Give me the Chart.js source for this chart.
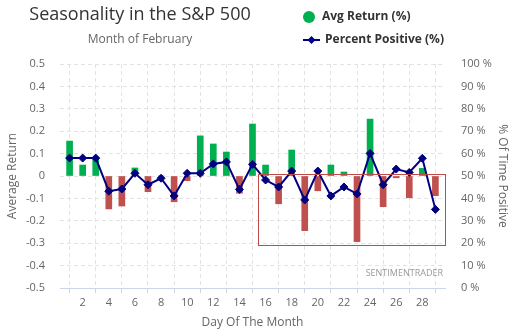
<!DOCTYPE html>
<html><head><meta charset="utf-8">
<script src="https://cdn.jsdelivr.net/npm/chart.js@4"></script>
<style>html,body{margin:0;padding:0;background:#fff;}canvas{display:block;}</style>
</head><body>
<canvas id="c" width="515" height="331"></canvas>
<script>
const days = [1,2,3,4,5,6,7,8,9,10,11,12,13,14,15,16,17,18,19,20,21,22,23,24,25,26,27,28,29];
const avgReturn = [0.156,0.049,0.079,-0.147,-0.134,0.036,-0.070,0.000,-0.115,-0.021,0.179,0.143,0.107,-0.077,0.232,0.049,-0.124,0.116,-0.244,-0.066,0.049,0.018,-0.293,0.254,-0.137,-0.008,-0.097,0.034,-0.088];
const pctPositive = [58.0,58.0,58.0,43.2,44.2,51.2,46.1,49.0,41.1,51.2,51.2,55.4,56.3,44.0,55.2,48.2,45.1,52.2,39.3,52.2,41.1,45.1,42.0,60.1,46.1,53.1,51.6,57.9,35.1];
const xTickDays = [2,4,6,8,10,12,14,16,18,20,22,24,26,28];
const titleText = 'Seasonality in the S&P 500';
const subtitleText = 'Month of February';
const seriesNames = ['Avg Return (%)', 'Percent Positive (%)'];
const axisTitles = {x: 'Day Of The Month', y: 'Average Return', y1: '% Of Time Positive'};
const watermark = 'SENTIMENTRADER';
// highlight box in data units: [xFrom, xTo, yTop, yBottom]
const highlightBox = [15.45, 29.73, 0.008, -0.308];

const GREEN = '#00b050', RED = '#c0504d', NAVY = '#000080';
const FONT = '"Open Sans", "DejaVu Sans", sans-serif';

const decor = {
  id: 'decor',
  afterDatasetsDraw(chart) {
    const {ctx, scales: {x, y}} = chart;
    ctx.save();
    ctx.strokeStyle = '#be4b48';
    ctx.lineWidth = 1;
    const x0 = Math.round(x.getPixelForValue(highlightBox[0])) + 0.5;
    const x1 = Math.round(x.getPixelForValue(highlightBox[1])) + 0.5;
    const y0 = Math.round(y.getPixelForValue(highlightBox[2])) + 0.5;
    const y1 = Math.round(y.getPixelForValue(highlightBox[3])) + 0.5;
    ctx.strokeRect(x0, y0, x1 - x0, y1 - y0);
    ctx.restore();
  },
  afterDraw(chart) {
    const {ctx, chartArea} = chart;
    ctx.save();
    ctx.textBaseline = 'middle';
    ctx.textAlign = 'center';
    ctx.fillStyle = '#333333';
    ctx.font = '18px ' + FONT;
    ctx.fillText(titleText, 140, 15);
    ctx.fillStyle = '#666666';
    ctx.font = '12px ' + FONT;
    ctx.fillText(subtitleText, 140, 40);
    // legend
    ctx.fillStyle = GREEN;
    ctx.beginPath(); ctx.arc(309, 17, 6, 0, Math.PI * 2); ctx.fill();
    ctx.strokeStyle = NAVY; ctx.lineWidth = 2;
    ctx.beginPath(); ctx.moveTo(303, 40); ctx.lineTo(320, 40); ctx.stroke();
    ctx.fillStyle = NAVY;
    ctx.beginPath(); ctx.moveTo(311.5, 36); ctx.lineTo(315.5, 40); ctx.lineTo(311.5, 44); ctx.lineTo(307.5, 40); ctx.closePath(); ctx.fill();
    ctx.textAlign = 'left';
    ctx.fillStyle = '#333333';
    ctx.font = 'bold 12px ' + FONT;
    ctx.fillText(seriesNames[0], 322, 17);
    ctx.fillText(seriesNames[1], 325, 40);
    // watermark
    ctx.textAlign = 'right';
    ctx.fillStyle = '#999999';
    ctx.font = '9px ' + FONT;
    ctx.fillText(watermark, chartArea.right - 2, 273);
    ctx.restore();
  }
};

new Chart(document.getElementById('c'), {
  type: 'bar',
  data: {
    datasets: [
      {
        type: 'line',
        label: seriesNames[1],
        data: days.map((d, i) => ({x: d, y: pctPositive[i]})),
        yAxisID: 'y1',
        borderColor: NAVY,
        backgroundColor: NAVY,
        borderWidth: 2,
        pointStyle: 'rectRot',
        pointRadius: 4,
        pointBorderWidth: 1,
        tension: 0,
        order: 1
      },
      {
        type: 'bar',
        label: seriesNames[0],
        data: days.map((d, i) => ({x: d, y: avgReturn[i]})),
        yAxisID: 'y',
        backgroundColor: avgReturn.map(v => v >= 0 ? GREEN : RED),
        borderWidth: 0,
        barThickness: 6,
        order: 2
      }
    ]
  },
  options: {
    responsive: false,
    devicePixelRatio: 1,
    animation: false,
    layout: {padding: {top: 64, bottom: 0, left: 0, right: 0}},
    plugins: {legend: {display: false}, title: {display: false}, tooltip: {enabled: false}},
    scales: {
      x: {
        type: 'linear',
        min: 0.265,
        max: 29.735,
        offset: false,
        afterBuildTicks: s => { s.ticks = xTickDays.map(v => ({value: v})); },
        afterFit: s => { s.height = 43; },
        grid: {color: '#e3e3e3', drawTicks: true, tickLength: 5, tickColor: '#ccd6eb', tickBorderDash: [], tickWidth: 1},
        border: {display: true, color: '#ccd6eb', width: 1, dash: [4, 3]},
        ticks: {color: '#666666', font: {family: FONT, size: 11}, padding: 3, maxRotation: 0, autoSkip: false,
                callback: v => String(v)},
        title: {display: true, text: axisTitles.x, color: '#666666', font: {family: FONT, size: 12}, padding: {top: 0, bottom: 1}}
      },
      y: {
        position: 'left',
        min: -0.5,
        max: 0.5,
        afterFit: s => { s.width = 60; },
        grid: {color: c => (c.tick && Math.abs(c.tick.value + 0.5) < 1e-6) ? 'rgba(0,0,0,0)' : '#e3e3e3', drawTicks: false},
        border: {display: false, dash: [4, 3]},
        ticks: {stepSize: 0.1, color: '#666666', font: {family: FONT, size: 11}, padding: 15,
                callback: v => Math.abs(v) < 1e-9 ? '0' : (Math.round(v * 10) / 10).toFixed(1)},
        title: {display: true, text: axisTitles.y, color: '#666666', font: {family: FONT, size: 12}, padding: {top: 5, bottom: 0}}
      },
      y1: {
        position: 'right',
        min: 0,
        max: 100,
        afterFit: s => { s.width = 70; },
        grid: {drawOnChartArea: false, drawTicks: false},
        border: {display: false},
        ticks: {stepSize: 10, color: '#666666', font: {family: FONT, size: 11}, padding: 16,
                callback: v => Math.round(v) + ' %'},
        title: {display: true, text: axisTitles.y1, color: '#666666', font: {family: FONT, size: 12}, padding: {top: 5, bottom: 0}}
      }
    }
  },
  plugins: [decor]
});
</script>
</body></html>
